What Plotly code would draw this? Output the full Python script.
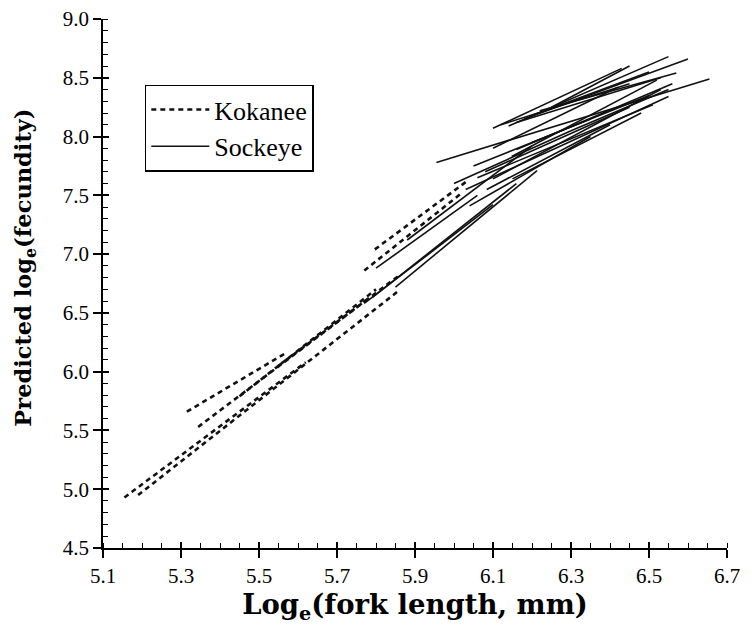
import plotly.graph_objects as go

# Kokanee regression segments (dashed): start/end in (loge length, predicted loge fecundity)
kok_x0 = [5.155, 5.190, 5.315, 5.344, 5.450, 5.550, 5.770, 5.797]
kok_y0 = [4.930, 4.950, 5.660, 5.530, 5.790, 6.050, 6.860, 7.040]
kok_x1 = [5.620, 5.855, 5.567, 5.780, 5.800, 5.860, 6.020, 6.033]
kok_y1 = [6.080, 6.680, 6.155, 6.620, 6.700, 6.820, 7.520, 7.620]

# Sockeye regression segments (solid)
soc_x0 = [5.955, 5.770, 5.850, 5.790, 5.800, 5.880, 6.100, 6.140, 6.180, 6.200,
          6.120, 6.160, 6.220, 6.030, 6.060, 6.100, 6.150, 6.160, 6.148, 6.100,
          6.000, 6.080, 6.040, 6.084, 6.250, 6.300, 6.200, 6.050]
soc_y0 = [7.780, 6.580, 6.720, 6.630, 6.880, 7.120, 8.070, 8.090, 8.150, 8.180,
          8.100, 8.120, 8.220, 7.550, 7.650, 7.640, 7.640, 7.890, 7.830, 7.900,
          7.600, 7.700, 7.410, 7.550, 8.250, 8.050, 7.950, 7.750]
soc_x1 = [6.655, 6.100, 6.213, 6.160, 6.060, 6.200, 6.430, 6.550, 6.600, 6.500,
          6.450, 6.530, 6.570, 6.550, 6.510, 6.530, 6.480, 6.560, 6.520, 6.420,
          6.300, 6.450, 6.350, 6.400, 6.450, 6.550, 6.500, 6.350]
soc_y1 = [8.490, 7.420, 7.710, 7.600, 7.500, 7.920, 8.580, 8.680, 8.660, 8.550,
          8.450, 8.500, 8.540, 8.340, 8.270, 8.400, 8.200, 8.450, 8.480, 8.420,
          8.050, 8.250, 8.000, 8.100, 8.600, 8.400, 8.350, 8.150]

x_ticks = [5.1, 5.3, 5.5, 5.7, 5.9, 6.1, 6.3, 6.5, 6.7]
y_ticks = [4.5, 5.0, 5.5, 6.0, 6.5, 7.0, 7.5, 8.0, 8.5, 9.0]

FONT = "Liberation Serif"
TFONT = "DejaVu Serif"

fig = go.Figure()

for i in range(len(kok_x0)):
    fig.add_trace(go.Scatter(
        x=[kok_x0[i], kok_x1[i]], y=[kok_y0[i], kok_y1[i]], mode="lines",
        line=dict(color="#111111", width=2.6, dash="5px,4px"),
        name="Kokanee", legendgroup="k", showlegend=(i == 0), hoverinfo="skip"))

for i in range(len(soc_x0)):
    fig.add_trace(go.Scatter(
        x=[soc_x0[i], soc_x1[i]], y=[soc_y0[i], soc_y1[i]], mode="lines",
        line=dict(color="#111111", width=1.6),
        name="Sockeye", legendgroup="s", showlegend=(i == 0), hoverinfo="skip"))

# invisible trace for the overlay axes (inner part of the crossing major ticks)
fig.add_trace(go.Scatter(x=[5.1], y=[4.5], xaxis="x2", yaxis="y2", mode="markers",
                         marker=dict(opacity=0), showlegend=False, hoverinfo="skip"))

axis_common = dict(showgrid=False, zeroline=False, showline=True, linecolor="black",
                   linewidth=1.5, ticks="outside", ticklen=8, tickwidth=1.5,
                   tickcolor="black", automargin=False, ticklabeloverflow="allow",
                   tickfont=dict(family=FONT, size=21, color="black"))

fig.update_layout(
    width=744, height=626,
    margin=dict(l=95, r=25, t=11, b=86),
    plot_bgcolor="white", paper_bgcolor="white",
    xaxis=dict(range=[5.1, 6.7], tickvals=x_ticks, ticktext=[f"{v:.1f}" for v in x_ticks],
               minor=dict(dtick=0.05, tick0=5.1, ticks="inside", ticklen=5, tickwidth=1.2,
                          tickcolor="black"),
               title=dict(text="<b>Log<sub>e</sub>(fork length, mm)</b>",
                          font=dict(family=TFONT, size=27.5, color="black"), standoff=6),
               **axis_common),
    yaxis=dict(range=[4.5, 9.0], tickvals=y_ticks, ticktext=[f"{v:.1f}" for v in y_ticks],
               minor=dict(dtick=0.1, tick0=4.5, ticks="inside", ticklen=5, tickwidth=1.2,
                          tickcolor="black"),
               **axis_common),
    xaxis2=dict(range=[5.1, 6.7], overlaying="x", anchor="y2", side="bottom",
                tickvals=x_ticks, ticks="inside", ticklen=6, tickwidth=1.5,
                tickcolor="black", showticklabels=False, showgrid=False,
                zeroline=False, showline=False, automargin=False),
    yaxis2=dict(range=[4.5, 9.0], overlaying="y", anchor="x2", side="left",
                tickvals=y_ticks, ticks="inside", ticklen=6, tickwidth=1.5,
                tickcolor="black", showticklabels=False, showgrid=False,
                zeroline=False, showline=False, automargin=False),
    legend=dict(x=0.067, y=0.876, xanchor="left", yanchor="top",
                bgcolor="white", bordercolor="black", borderwidth=1.5,
                font=dict(family=FONT, size=26, color="black"),
                tracegroupgap=0, itemwidth=58),
    showlegend=True,
    annotations=[dict(text="<b>Predicted log<sub>e</sub>(fecundity)</b>", textangle=-90,
                      xref="paper", yref="paper", x=-0.125, y=0.53,
                      xanchor="center", yanchor="middle", showarrow=False,
                      font=dict(family=TFONT, size=22.5, color="black"))],
)

fig.write_html("out.html")
